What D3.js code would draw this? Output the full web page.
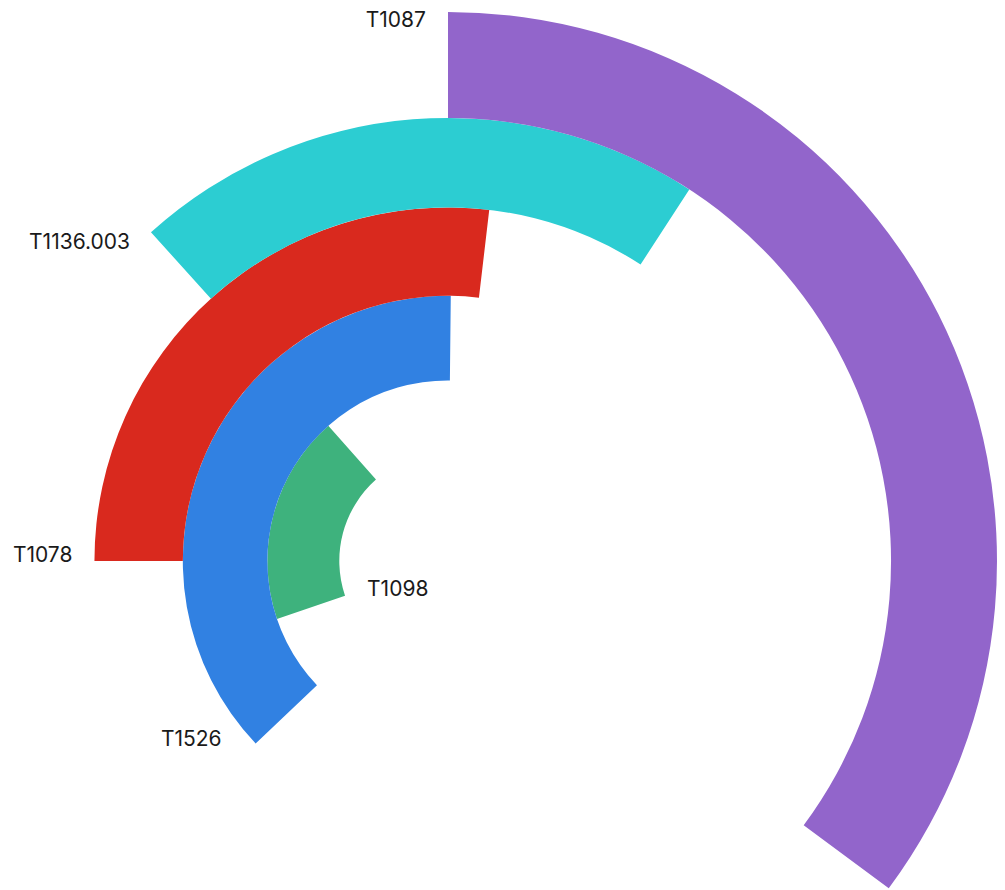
<!DOCTYPE html>
<html>
<head>
<meta charset="utf-8">
<script src="https://cdn.jsdelivr.net/npm/d3@7"></script>
<style>
  html, body { margin: 0; padding: 0; background: #fff; }
  svg text { font-family: Inter, "Noto Sans", sans-serif; font-size: 21px; fill: #1a1a1a; }
</style>
</head>
<body>
<div id="chart"></div>
<script>
// technique ids, innermost ring first
const techniques = ["T1098", "T1526", "T1078", "T1136.003", "T1087"];
// angular extent of each bar, degrees clockwise from 12 o'clock
const startAngle = [-108.7, -133.5, -90, -42.1, 0];
const endAngle = [-41.5, 0.6, 6.7, 33.0, 126.6];
// radial extent of each bar (0..100)
const innerValue = [19.8, 32.9, 48.3, 64.4, 80.7];
const outerValue = [32.9, 48.3, 64.4, 80.7, 100];
const colors = ["#3eb27d", "#3181e2", "#d9291e", "#2ccdd2", "#9265cb"];

const width = 1005;
const height = 890;
const cx = 448, cy = 561;

// label placement: which corner of the bar start, and a small nudge
const labelCorner = ["inner", "outer", "outer", "outer", "outer"];
const labelNudge = [[22, 0], [-34, 2], [-22, 1], [-21, 17], [-22, 15]];

const data = techniques.map((t, i) => ({
  id: t,
  start: startAngle[i],
  end: endAngle[i],
  r0: innerValue[i],
  r1: outerValue[i],
  color: colors[i],
  corner: labelCorner[i],
  nudge: labelNudge[i]
}));

const angle = d3.scaleLinear().domain([0, 360]).range([0, 2 * Math.PI]);
const radius = d3.scaleLinear().domain([0, 100]).range([0, 549]);

const svg = d3.select("#chart")
  .append("svg")
  .attr("width", width)
  .attr("height", height);

const g = svg.append("g")
  .attr("transform", `translate(${cx},${cy})`);

const arc = d3.arc()
  .innerRadius(d => radius(d.r0))
  .outerRadius(d => radius(d.r1))
  .startAngle(d => angle(d.start))
  .endAngle(d => angle(d.end));

g.selectAll("path")
  .data(data)
  .enter()
  .append("path")
  .attr("d", arc)
  .attr("fill", d => d.color);

function corner(d) {
  const r = radius(d.corner === "inner" ? d.r0 : d.r1);
  const a = angle(d.start);
  return [r * Math.sin(a), -r * Math.cos(a)];
}

g.selectAll("text")
  .data(data)
  .enter()
  .append("text")
  .attr("x", d => corner(d)[0] + d.nudge[0])
  .attr("y", d => corner(d)[1] + d.nudge[1])
  .attr("text-anchor", d => d.corner === "inner" ? "start" : "end")
  .text(d => d.id);
</script>
</body>
</html>
